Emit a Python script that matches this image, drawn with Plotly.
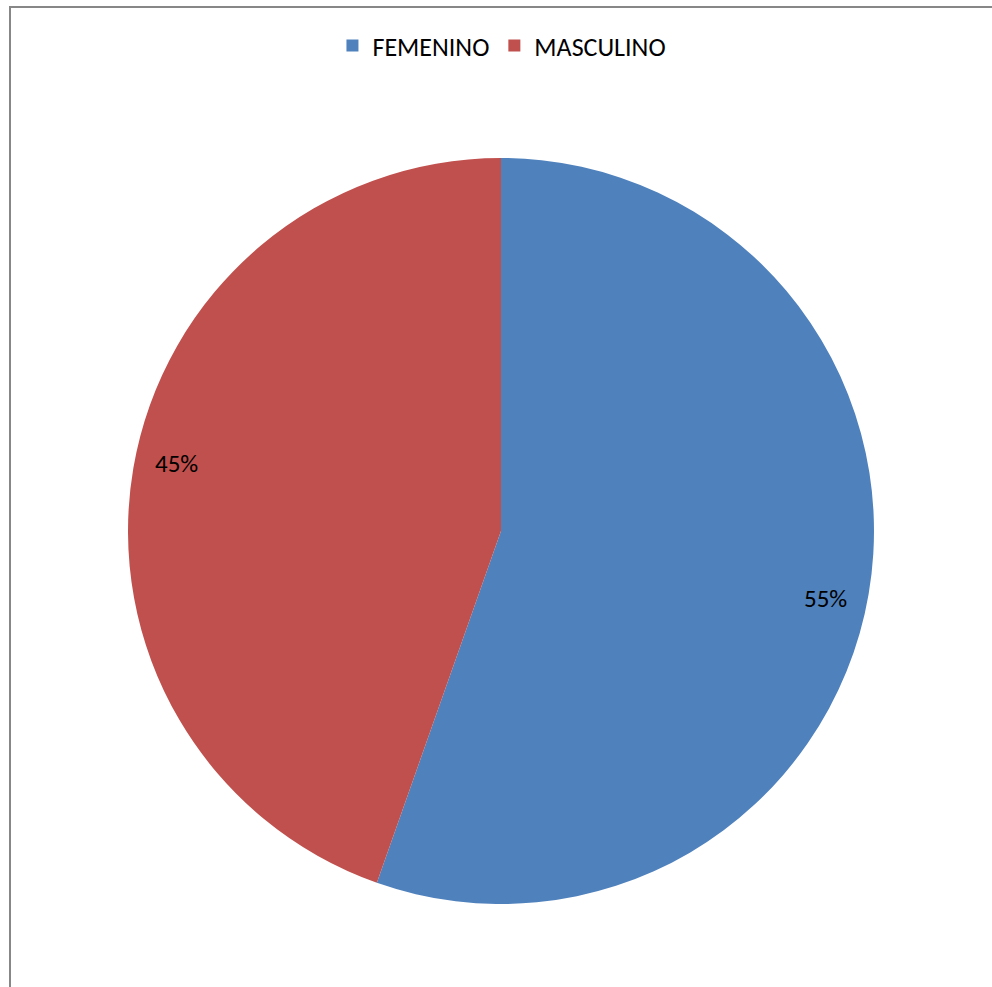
import math
import plotly.graph_objects as go

labels = ["FEMENINO", "MASCULINO"]
values = [55.4, 44.6]
colors = ["#4F81BD", "#C0504D"]

W, H = 992, 987
cx, cy, r = 501, 531, 373  # pie centre and radius in pixels

fig = go.Figure()
fig.add_trace(go.Pie(
    labels=labels,
    values=values,
    sort=False,
    direction="clockwise",
    rotation=0,
    marker=dict(colors=colors, line=dict(width=0)),
    textinfo="none",
    hoverinfo="label+percent",
    domain=dict(x=[(cx - r) / W, (cx + r) / W],
                y=[(H - cy - r) / H, (H - cy + r) / H]),
))

# percentage labels placed near the rim, just past each slice's mid-angle
total = sum(values)
cum = 0
annotations = []
for v in values:
    mid = (cum + v / 2) / total * 2 * math.pi + math.radians(2.1)
    cum += v
    px = cx + 0.89 * r * math.sin(mid)
    py = cy - 0.89 * r * math.cos(mid)
    annotations.append(dict(
        x=px / W, y=1 - py / H, xref="paper", yref="paper",
        text=f"{round(v / total * 100)}%", showarrow=False,
        font=dict(size=25, color="#000000", family="Carlito, Open Sans"),
        xanchor="center", yanchor="middle",
    ))

fig.update_layout(
    width=W, height=H,
    margin=dict(l=0, r=0, t=0, b=0),
    paper_bgcolor="white",
    plot_bgcolor="white",
    showlegend=True,
    legend=dict(
        orientation="h",
        x=0.506, xanchor="center",
        y=1 - 22 / H, yanchor="top",
        font=dict(size=26, color="#000000", family="Carlito, Open Sans"),
        traceorder="normal",
    ),
    annotations=annotations,
    shapes=[dict(
        type="rect", xref="paper", yref="paper",
        x0=10 / W, x1=1.02, y0=-0.02, y1=1 - 7 / H,
        line=dict(color="#878787", width=2),
        fillcolor="rgba(0,0,0,0)",
        layer="below",
    )],
)

fig.write_html("out.html")
